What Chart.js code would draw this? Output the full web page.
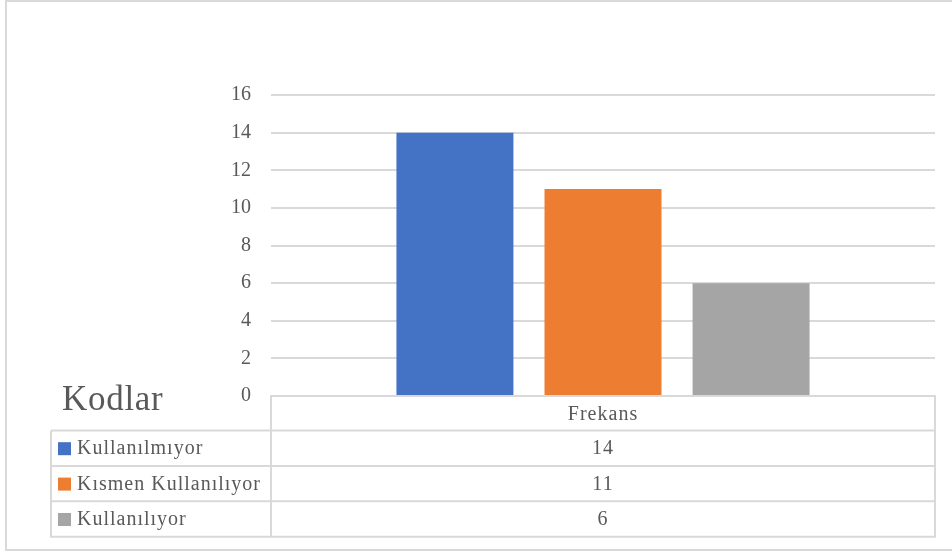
<!DOCTYPE html>
<html>
<head>
<meta charset="utf-8">
<script src="https://cdn.jsdelivr.net/npm/chart.js@4"></script>
<style>
  html, body { margin: 0; padding: 0; background: #ffffff; }
  #wrap { position: relative; width: 952px; height: 551px; }
</style>
</head>
<body>
<div id="wrap"><canvas id="chart" width="952" height="551"></canvas></div>
<script>
// Data
const categories = ['Frekans'];
const seriesNames = ['Kullanılmıyor', 'Kısmen Kullanılıyor', 'Kullanılıyor'];
const seriesValues = [[14], [11], [6]];
const seriesColors = ['#4472C4', '#ED7D31', '#A5A5A5'];
const tableTitle = 'Kodlar';
const yTicks = [0, 2, 4, 6, 8, 10, 12, 14, 16];

const FONT = '"Liberation Serif", "Times New Roman", serif';
const TEXT = '#595959';
const LINE = '#d9d9d9';

// Draws the frame, the data table with legend keys and its title
const dataTablePlugin = {
  id: 'dataTable',
  beforeDraw(chart) {
    const ctx = chart.ctx;
    ctx.save();
    ctx.strokeStyle = LINE;
    ctx.lineWidth = 2;
    ctx.beginPath();
    ctx.moveTo(952, 1);
    ctx.lineTo(6, 1);
    ctx.lineTo(6, 550);
    ctx.lineTo(952, 550);
    ctx.stroke();
    ctx.restore();
  },
  afterDraw(chart) {
    const ctx = chart.ctx;
    const area = chart.chartArea;
    const left = area.left, right = area.right;
    const top = chart.scales.y.getPixelForValue(0);
    const labelLeft = 51;
    const headerH = 34.5;
    const rowH = 35.4;
    const rowsTop = top + headerH;
    const bottom = rowsTop + rowH * seriesNames.length;

    ctx.save();
    ctx.strokeStyle = LINE;
    ctx.lineWidth = 2;
    ctx.beginPath();
    // value column outline
    ctx.moveTo(left, bottom);
    ctx.lineTo(left, top);
    ctx.lineTo(right, top);
    ctx.lineTo(right, bottom);
    ctx.lineTo(labelLeft, bottom);
    ctx.lineTo(labelLeft, rowsTop);
    // row separators
    for (let i = 0; i < seriesNames.length; i++) {
      const y = rowsTop + rowH * i;
      ctx.moveTo(labelLeft, y);
      ctx.lineTo(right, y);
    }
    ctx.stroke();

    ctx.fillStyle = TEXT;
    ctx.textBaseline = 'middle';

    // table title
    ctx.font = '35px ' + FONT;
    ctx.letterSpacing = '0.7px';
    ctx.textAlign = 'left';
    ctx.fillText(tableTitle, 62, 401);

    // header with category names
    ctx.font = '20px ' + FONT;
    ctx.letterSpacing = '1px';
    ctx.textAlign = 'center';
    categories.forEach((c, ci) => {
      const cx = chart.scales.x.getPixelForValue(ci);
      ctx.fillText(c, cx, top + headerH / 2 + 1);
    });

    // rows: legend key, name and values
    seriesNames.forEach((name, i) => {
      const cy = rowsTop + rowH * i + rowH / 2 + 1;
      ctx.fillStyle = seriesColors[i];
      ctx.fillRect(58, cy - 7, 13, 13);
      ctx.fillStyle = TEXT;
      ctx.textAlign = 'left';
      ctx.fillText(name, 77, cy);
      ctx.textAlign = 'center';
      seriesValues[i].forEach((v, ci) => {
        const cx = chart.scales.x.getPixelForValue(ci);
        ctx.fillText(String(v), cx, cy);
      });
    });
    ctx.restore();
  }
};

new Chart(document.getElementById('chart'), {
  type: 'bar',
  data: {
    labels: categories,
    datasets: seriesNames.map((name, i) => ({
      label: name,
      data: seriesValues[i],
      backgroundColor: seriesColors[i],
      borderWidth: 0,
      categoryPercentage: 0.669,
      barPercentage: 0.79
    }))
  },
  options: {
    responsive: false,
    animation: false,
    layout: { padding: { left: 0, right: 17, top: 95, bottom: 155 } },
    plugins: {
      legend: { display: false },
      tooltip: { enabled: false }
    },
    scales: {
      x: {
        display: false,
        grid: { display: false }
      },
      y: {
        min: 0,
        max: 16,
        afterFit(scale) { scale.width = 271; },
        afterBuildTicks(scale) { scale.ticks = yTicks.map(v => ({ value: v })); },
        border: { display: false },
        grid: { color: LINE, lineWidth: 2, drawTicks: false },
        ticks: {
          padding: 20,
          color: TEXT,
          font: { family: FONT, size: 20 }
        }
      }
    }
  },
  plugins: [dataTablePlugin]
});
</script>
</body>
</html>
